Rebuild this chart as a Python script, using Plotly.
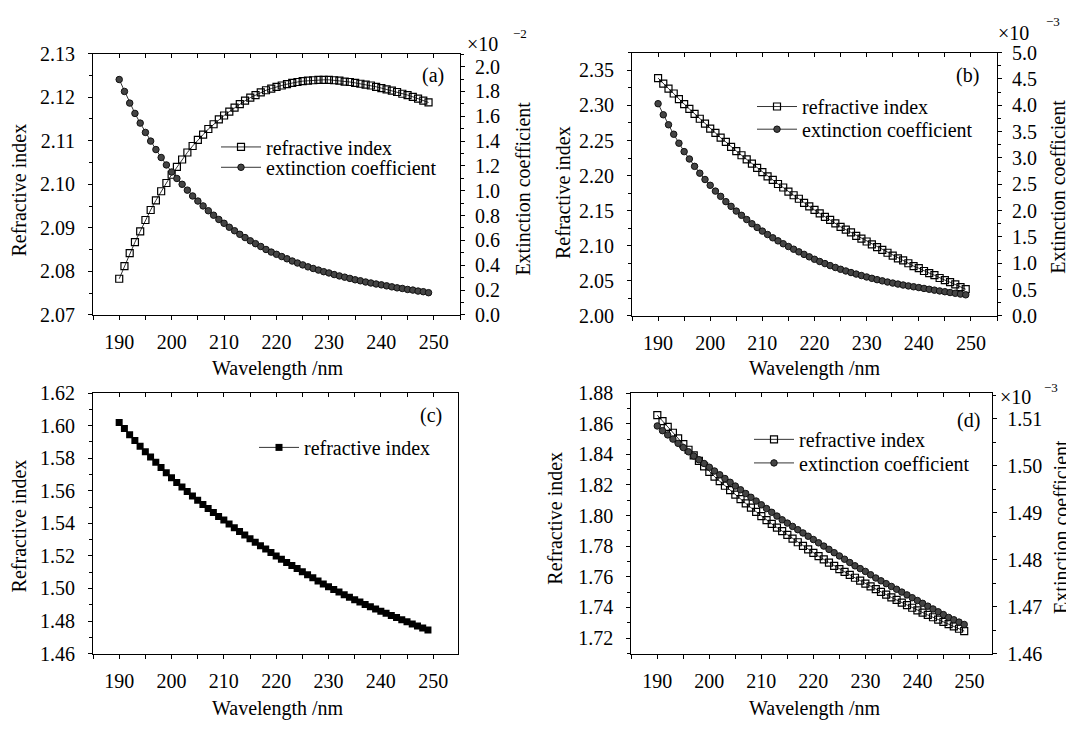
import plotly.graph_objects as go

# page is 1074x731; the html body has an 8px margin, so the figure is placed at (8, 8)
PAGE_OFF = 8
W, H = 1074 - PAGE_OFF, 731 - 2 * PAGE_OFF
FONT = "Liberation Serif"

wavelength_nm = list(range(190, 250))

# (a) refractive index and extinction coefficient (x10^-2)
a_refractive = [2.0783, 2.0812, 2.0842, 2.0867, 2.0892, 2.0918, 2.0941, 2.0963, 2.0984, 2.1003,
                2.1022, 2.1040, 2.1057, 2.1073, 2.1088, 2.1102, 2.1114, 2.1127, 2.1138, 2.1149,
                2.1158, 2.1167, 2.1176, 2.1184, 2.1192, 2.1199, 2.1205, 2.1211, 2.1216, 2.1220,
                2.1224, 2.1227, 2.1230, 2.1233, 2.1235, 2.1237, 2.1238, 2.1239, 2.1240, 2.1240,
                2.1240, 2.1239, 2.1238, 2.1236, 2.1235, 2.1233, 2.1231, 2.1229, 2.1227, 2.1224,
                2.1221, 2.1218, 2.1215, 2.1212, 2.1208, 2.1205, 2.1201, 2.1197, 2.1192, 2.1188]
a_extinction = [1.896, 1.800, 1.706, 1.623, 1.545, 1.470, 1.400, 1.332, 1.268, 1.208,
                1.151, 1.099, 1.052, 1.005, 0.958, 0.917, 0.878, 0.839, 0.803, 0.769,
                0.738, 0.706, 0.678, 0.649, 0.623, 0.597, 0.574, 0.551, 0.527, 0.506,
                0.488, 0.470, 0.452, 0.434, 0.418, 0.403, 0.387, 0.374, 0.361, 0.348,
                0.338, 0.325, 0.314, 0.304, 0.294, 0.283, 0.275, 0.265, 0.257, 0.249,
                0.242, 0.234, 0.226, 0.218, 0.213, 0.205, 0.200, 0.192, 0.187, 0.179]

# (b) refractive index and extinction coefficient (x10^-3)
b_refractive = [2.339, 2.331, 2.324, 2.317, 2.309, 2.302, 2.295, 2.288, 2.281, 2.274,
                2.267, 2.261, 2.254, 2.248, 2.241, 2.235, 2.229, 2.223, 2.217, 2.211,
                2.205, 2.199, 2.194, 2.188, 2.183, 2.177, 2.172, 2.167, 2.161, 2.156,
                2.151, 2.146, 2.141, 2.137, 2.132, 2.127, 2.123, 2.119, 2.114, 2.110,
                2.106, 2.102, 2.098, 2.094, 2.090, 2.086, 2.082, 2.079, 2.075, 2.071,
                2.068, 2.064, 2.061, 2.058, 2.054, 2.051, 2.048, 2.045, 2.041, 2.038]
b_extinction = [4.03, 3.82, 3.63, 3.45, 3.28, 3.12, 2.98, 2.84, 2.71, 2.59,
                2.48, 2.37, 2.27, 2.17, 2.08, 1.99, 1.91, 1.83, 1.75, 1.68,
                1.610, 1.545, 1.483, 1.425, 1.370, 1.317, 1.266, 1.216, 1.168, 1.121,
                1.075, 1.033, 0.993, 0.955, 0.919, 0.885, 0.853, 0.823, 0.794, 0.766,
                0.739, 0.713, 0.688, 0.665, 0.643, 0.623, 0.604, 0.586, 0.569, 0.553,
                0.538, 0.521, 0.505, 0.489, 0.474, 0.459, 0.444, 0.429, 0.414, 0.400]

# (c) refractive index
c_refractive = [1.6020, 1.5982, 1.5945, 1.5909, 1.5874, 1.5840, 1.5807, 1.5775, 1.5743, 1.5711,
                1.5680, 1.5651, 1.5623, 1.5595, 1.5568, 1.5542, 1.5516, 1.5491, 1.5466, 1.5442,
                1.5420, 1.5396, 1.5373, 1.5350, 1.5328, 1.5306, 1.5284, 1.5263, 1.5242, 1.5221,
                1.5200, 1.5180, 1.5160, 1.5141, 1.5122, 1.5103, 1.5084, 1.5065, 1.5046, 1.5028,
                1.5010, 1.4994, 1.4978, 1.4962, 1.4946, 1.4930, 1.4916, 1.4902, 1.4888, 1.4874,
                1.4860, 1.4847, 1.4834, 1.4821, 1.4808, 1.4795, 1.4782, 1.4769, 1.4757, 1.4745]

# (d) refractive index and extinction coefficient (x10^-3)
d_refractive = [1.8656, 1.8617, 1.8579, 1.8541, 1.8504, 1.8467, 1.8430, 1.8394, 1.8358, 1.8322,
                1.8286, 1.8255, 1.8225, 1.8195, 1.8166, 1.8137, 1.8108, 1.8080, 1.8052, 1.8024,
                1.7996, 1.7971, 1.7946, 1.7922, 1.7898, 1.7874, 1.7850, 1.7826, 1.7802, 1.7779,
                1.7756, 1.7735, 1.7714, 1.7693, 1.7672, 1.7651, 1.7632, 1.7613, 1.7594, 1.7575,
                1.7556, 1.7538, 1.7520, 1.7502, 1.7484, 1.7466, 1.7449, 1.7432, 1.7415, 1.7398,
                1.7381, 1.7366, 1.7351, 1.7336, 1.7321, 1.7306, 1.7291, 1.7276, 1.7261, 1.7246]
d_extinction = [1.5085, 1.5075, 1.5066, 1.5057, 1.5048, 1.5039, 1.5030, 1.5021, 1.5013, 1.5005,
                1.4997, 1.4989, 1.4981, 1.4973, 1.4965, 1.4957, 1.4949, 1.4941, 1.4933, 1.4925,
                1.4917, 1.4909, 1.4901, 1.4893, 1.4885, 1.4878, 1.4871, 1.4864, 1.4857, 1.4850,
                1.4843, 1.4836, 1.4829, 1.4822, 1.4815, 1.4808, 1.4801, 1.4794, 1.4787, 1.4781,
                1.4775, 1.4768, 1.4761, 1.4755, 1.4749, 1.4743, 1.4737, 1.4731, 1.4725, 1.4719,
                1.4713, 1.4707, 1.4701, 1.4695, 1.4689, 1.4683, 1.4677, 1.4672, 1.4667, 1.4662]

LABEL_N = "refractive index"
LABEL_K = "extinction coefficient"
X_TITLE = "Wavelength /nm"
Y_TITLE_N = "Refractive index"
Y_TITLE_K = "Extinction coefficient"


def px(x):
    """page x pixel -> paper fraction"""
    return (x - PAGE_OFF) / W


def py(y):
    """page y pixel -> paper fraction"""
    return 1 - (y - PAGE_OFF) / H


# panel geometry in page pixels: (left, right, top, bottom)
panels = {
    "a": (93, 460, 43.8, 313.3),
    "b": (632, 997, 42.7, 314.3),
    "c": (93, 458.3, 394, 662.7),
    "d": (631.3, 992.3, 394, 662.7),
}

fig = go.Figure()

sq_open = dict(symbol="square-open", size=7, color="black", line=dict(width=1.2, color="black"))
circ = dict(symbol="circle", size=6.5, color="#444444", line=dict(width=1, color="#111111"))
sq_fill = dict(symbol="square", size=7, color="black")
ln = dict(color="black", width=0.8)

fig.add_trace(go.Scatter(x=wavelength_nm, y=a_refractive, mode="lines+markers", name=LABEL_N,
                         marker=sq_open, line=ln, xaxis="x", yaxis="y", legend="legend"))
fig.add_trace(go.Scatter(x=wavelength_nm, y=a_extinction, mode="lines+markers", name=LABEL_K,
                         marker=circ, line=ln, xaxis="x", yaxis="y2", legend="legend2"))
fig.add_trace(go.Scatter(x=wavelength_nm, y=b_refractive, mode="lines+markers", name=LABEL_N,
                         marker=sq_open, line=ln, xaxis="x3", yaxis="y3", legend="legend3"))
fig.add_trace(go.Scatter(x=wavelength_nm, y=b_extinction, mode="lines+markers", name=LABEL_K,
                         marker=circ, line=ln, xaxis="x3", yaxis="y4", legend="legend4"))
fig.add_trace(go.Scatter(x=wavelength_nm, y=c_refractive, mode="lines+markers", name=LABEL_N,
                         marker=sq_fill, line=ln, xaxis="x5", yaxis="y5", legend="legend5"))
fig.add_trace(go.Scatter(x=wavelength_nm, y=d_refractive, mode="lines+markers", name=LABEL_N,
                         marker=sq_open, line=ln, xaxis="x7", yaxis="y6", legend="legend6"))
fig.add_trace(go.Scatter(x=wavelength_nm, y=d_extinction, mode="lines+markers", name=LABEL_K,
                         marker=circ, line=ln, xaxis="x7", yaxis="y7", legend="legend7"))
# empty traces so the top tick axes exist
for xa, ya in [("x2", "y"), ("x4", "y3"), ("x6", "y5"), ("x8", "y6")]:
    fig.add_trace(go.Scatter(x=[], y=[], xaxis=xa, yaxis=ya, showlegend=False))

tickfont = dict(family=FONT, size=20, color="black")
base = dict(showgrid=False, zeroline=False, linecolor="black", linewidth=1,
            ticks="outside", ticklen=4, tickwidth=1, tickcolor="black", tickfont=tickfont)


def xbottom(p, xr, anchor):
    l, r, t, b = panels[p]
    return dict(base, domain=[px(l), px(r)], range=xr, anchor=anchor, tick0=190, dtick=10,
                mirror=True, ticklabelstandoff=5,
                minor=dict(dtick=5, ticks="outside", ticklen=4, tickcolor="black"))


def xtop(p, xr, anchor, overlay):
    l, r, t, b = panels[p]
    return dict(showgrid=False, zeroline=False, showline=False, domain=[px(l), px(r)], range=xr,
                anchor=anchor, overlaying=overlay, side="top", ticks="inside", ticklen=4,
                tickcolor="black", tick0=190, dtick=5, showticklabels=False)


def yleft(p, yr, tick0, dtick, minor, fmt, anchor, mirror=False):
    l, r, t, b = panels[p]
    return dict(base, domain=[py(b), py(t)], range=yr, anchor=anchor, tick0=tick0, dtick=dtick,
                tickformat=fmt, mirror=mirror, ticklabelstandoff=9,
                minor=dict(dtick=minor, ticks="outside", ticklen=3, tickcolor="black"))


def yright(p, yr, tick0, dtick, minor, fmt, anchor, overlay):
    l, r, t, b = panels[p]
    return dict(base, domain=[py(b), py(t)], range=yr, anchor=anchor, overlaying=overlay,
                side="right", tick0=tick0, dtick=dtick, tickformat=fmt, ticklabelstandoff=6,
                minor=dict(dtick=minor, ticks="outside", ticklen=3, tickcolor="black"))


layout = dict(
    width=W, height=H, margin=dict(l=0, r=0, t=0, b=0),
    paper_bgcolor="white", plot_bgcolor="white", showlegend=True,
    font=dict(family=FONT, size=20, color="black"),
    xaxis=xbottom("a", [185, 255], "y"),
    xaxis2=xtop("a", [185, 255], "y", "x"),
    yaxis=yleft("a", [2.07, 2.13], 2.07, 0.01, 0.005, ".2f", "x"),
    yaxis2=yright("a", [0, 2.104], 0, 0.2, 0.1, ".1f", "x", "y"),
    xaxis3=xbottom("b", [185, 255], "y3"),
    xaxis4=xtop("b", [185, 255], "y3", "x3"),
    yaxis3=yleft("b", [2.0, 2.3753], 2.0, 0.05, 0.025, ".2f", "x3"),
    yaxis4=yright("b", [0, 5.0], 0, 0.5, 0.25, ".1f", "x3", "y3"),
    xaxis5=xbottom("c", [185, 254.8], "y5"),
    xaxis6=xtop("c", [185, 254.8], "y5", "x5"),
    yaxis5=yleft("c", [1.46, 1.62], 1.46, 0.02, 0.01, ".2f", "x5", mirror=True),
    xaxis7=xbottom("d", [185, 254.4], "y6"),
    xaxis8=xtop("d", [185, 254.4], "y6", "x7"),
    yaxis6=yleft("d", [1.7099, 1.88], 1.72, 0.02, 0.01, ".2f", "x7"),
    yaxis7=yright("d", [1.46, 1.5155], 1.46, 0.01, 0.005, ".2f", "x7", "y6"),
)

# legends (one per trace so each row can be placed like the reference)
leg_pos = {
    "legend": (216, 140), "legend2": (216, 161),
    "legend3": (752, 98.3), "legend4": (752, 121.7),
    "legend5": (254, 450),
    "legend6": (749, 441.7), "legend7": (749, 466),
}
for k, (lx, ly) in leg_pos.items():
    layout[k] = dict(x=px(lx), y=py(ly), xanchor="left", yanchor="middle",
                     bgcolor="rgba(0,0,0,0)", borderwidth=0, itemwidth=40,
                     font=dict(family=FONT, size=20, color="black"))

fig.update_layout(**layout)

ann = []


def text(x, y, s, size=20, xanchor="center", yanchor="middle", angle=0):
    ann.append(dict(x=px(x), y=py(y), xref="paper", yref="paper", text=s, showarrow=False,
                    xanchor=xanchor, yanchor=yanchor, textangle=angle,
                    font=dict(family=FONT, size=size, color="black")))


# axis titles
text(278, 369, X_TITLE)
text(815, 369, X_TITLE)
text(278, 719, X_TITLE)
text(815, 719, X_TITLE)
text(19, 185, Y_TITLE_N, angle=-90)
text(523, 183, Y_TITLE_K, angle=-90)
text(563.5, 187, Y_TITLE_N, angle=-90)
text(1058, 181, Y_TITLE_K, angle=-90)
text(18.5, 531, Y_TITLE_N, angle=-90)
text(555.5, 523, Y_TITLE_N, angle=-90)
text(1061, 532, Y_TITLE_K, angle=-90)

# panel labels
text(446, 66.7, "(a)", xanchor="right")
text(981, 66.7, "(b)", xanchor="right")
text(444, 416.7, "(c)", xanchor="right")
text(982, 422, "(d)", xanchor="right")

# axis multipliers
text(465, 34, "×10", xanchor="left")
text(511, 22.5, "−2", size=13, xanchor="left")
text(996, 22, "×10", xanchor="left")
text(1044, 11, "−3", size=13, xanchor="left")
text(998, 398.5, "×10", xanchor="left")
text(1042, 388.5, "−3", size=13, xanchor="left")

fig.update_layout(annotations=ann)
fig.write_html("out.html")
